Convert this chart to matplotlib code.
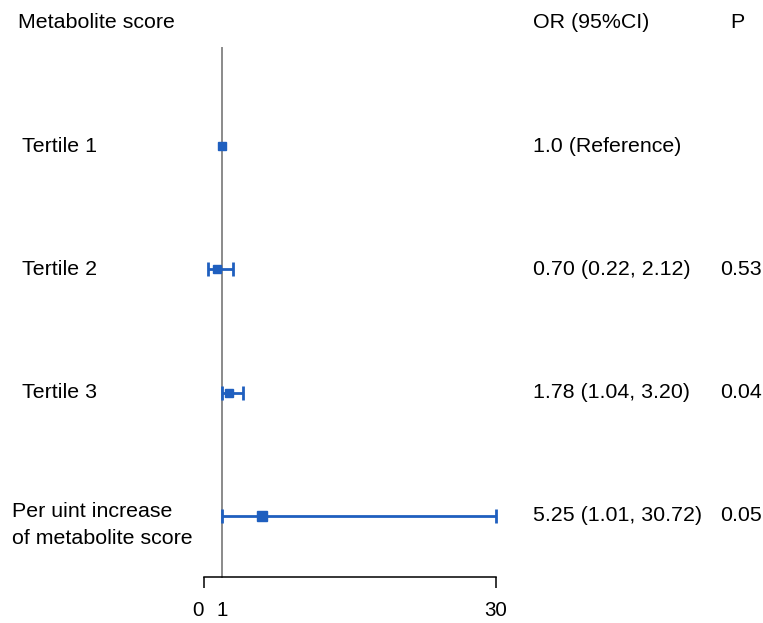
import numpy as np
import matplotlib
matplotlib.use("Agg")
import matplotlib.pyplot as plt
from matplotlib.transforms import blended_transform_factory

# ---- data ----
labels = ["Tertile 1", "Tertile 2", "Tertile 3", "Per uint increase\nof metabolite score"]
or_val = [1.0, 0.70, 1.78, 5.25]
ci_lo = [np.nan, 0.22, 1.04, 1.01]
ci_hi = [np.nan, 2.12, 3.20, 30.72]
or_text = ["1.0 (Reference)", "0.70 (0.22, 2.12)", "1.78 (1.04, 3.20)", "5.25 (1.01, 30.72)"]
p_text = ["", "0.53", "0.04", "0.05"]
tick_vals = [0, 1, 30]
tick_labels = ["0", "1", "30"]
header = ["Metabolite score", "OR (95%CI)", "P"]

# ---- style ----
W, H = 763, 623
plt.rcParams['font.family'] = ['Liberation Sans', 'DejaVu Sans']
FS = 15.4
BLUE = "#1f5fbf"
marker_sizes = [5.8, 5.2, 5.2, 6.6]
ROW_PX = 123.3

fig = plt.figure(figsize=(W / 100, H / 100), dpi=100)

def px_x(x):
    return x / W

def px_y(y):
    return 1 - y / H

ax_left, ax_right, ax_top, ax_bot = 204, 496, 48, 577
ax = fig.add_axes([px_x(ax_left), px_y(ax_bot), px_x(ax_right - ax_left), (ax_bot - ax_top) / H])

# piecewise scale: 0..1 stretched
K = 18 / (274 / 29)

def fwd(x):
    x = np.asarray(x, dtype=float)
    return np.where(x < 1, x * K, K + (x - 1))

def inv(y):
    y = np.asarray(y, dtype=float)
    return np.where(y < K, y / K, y - K + 1)

ax.set_xscale('function', functions=(fwd, inv))
XMIN, XMAX = 0, 30
ax.set_xlim(XMIN, XMAX)

n = len(labels)
ys = np.arange(n)
# rows at 146, 269, 392, 516 px; axes spans 48..577 px
ax.set_ylim((577 - 146) / ROW_PX, (48 - 146) / ROW_PX)

ax.axvline(1, color="#8a8a8a", lw=1.4, zorder=1, ymin=0, ymax=1, clip_on=False)

for i in range(n):
    if not np.isnan(ci_lo[i]):
        lo = ci_lo[i]
        hi = min(ci_hi[i], XMAX)
        ax.errorbar([or_val[i]], [ys[i]],
                    xerr=[[or_val[i] - lo], [hi - or_val[i]]],
                    fmt='s', color=BLUE, ms=marker_sizes[i], elinewidth=2.0,
                    capsize=5.2, capthick=2.0, zorder=3, clip_on=False)
    else:
        ax.plot([or_val[i]], [ys[i]], 's', color=BLUE, ms=marker_sizes[i], zorder=3)

for s in ["top", "right", "left"]:
    ax.spines[s].set_visible(False)
ax.spines["bottom"].set_linewidth(1.1)
ax.set_yticks([])
ax.set_xticks(tick_vals)
ax.set_xticklabels(tick_labels, fontsize=FS - 0.6)
ax.tick_params(axis='x', length=8, width=1.1, pad=9)
ticks = ax.xaxis.get_major_ticks()
ticks[1].tick1line.set_visible(False)
ax.get_xticklabels()[0].set_ha('right')
ax.patch.set_visible(False)

trans = blended_transform_factory(fig.transFigure, ax.transData)
for i in range(n):
    if "\n" in labels[i]:
        lx, dy, ls = 12, 9 / ROW_PX, 1.55
    else:
        lx, dy, ls = 22, 0.0, 1.2
    ax.text(px_x(lx), ys[i] + dy, labels[i], transform=trans, ha='left', va='center',
            fontsize=FS, linespacing=ls, clip_on=False)
    ax.text(px_x(533), ys[i], or_text[i], transform=trans, ha='left', va='center',
            fontsize=FS, clip_on=False)
    if p_text[i]:
        ax.text(px_x(720), ys[i], p_text[i], transform=trans, ha='left', va='center',
                fontsize=FS, clip_on=False)

fig.text(px_x(18), px_y(22), header[0], ha='left', va='center', fontsize=FS)
fig.text(px_x(533), px_y(22), header[1], ha='left', va='center', fontsize=FS)
fig.text(px_x(730), px_y(22), header[2], ha='left', va='center', fontsize=FS)

fig.savefig("out.png", dpi=100)
